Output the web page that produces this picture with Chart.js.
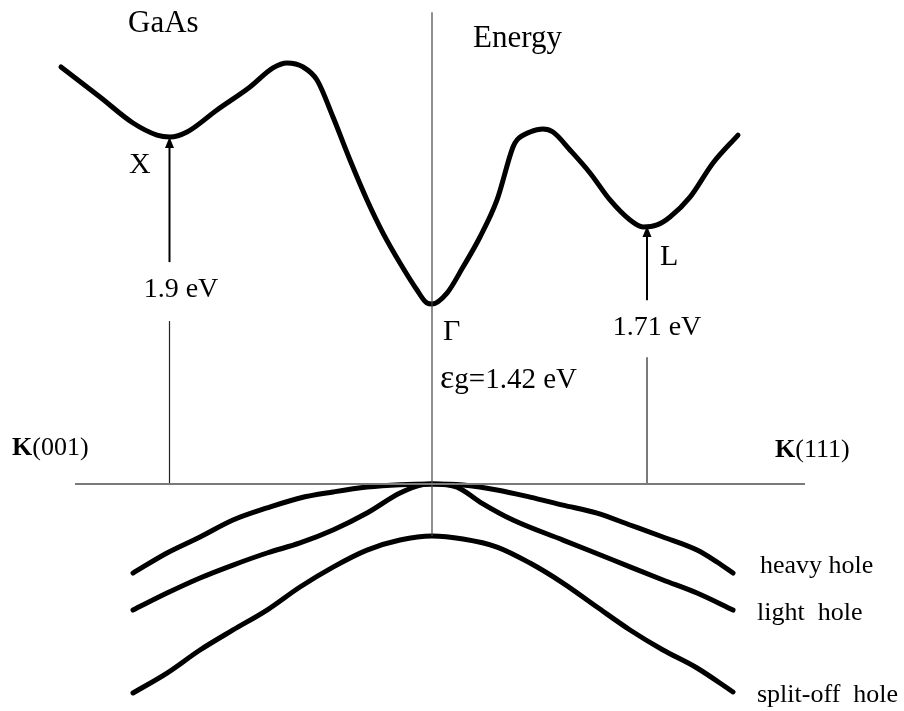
<!DOCTYPE html>
<html>
<head>
<meta charset="utf-8">
<script src="https://cdn.jsdelivr.net/npm/chart.js@4.4.1/dist/chart.umd.min.js"></script>
<style>
  html, body { margin: 0; padding: 0; background: #fff; }
  #wrap { width: 904px; height: 711px; }
</style>
</head>
<body>
<div id="wrap"><canvas id="band" width="904" height="711"></canvas></div>
<script>
  // k in arbitrary wave-vector units (Gamma = 0), E in eV-like units (valence top = 0)
  const condK = [-1.484, -1.328, -1.196, -1.100, -1.048, -0.980, -0.860, -0.728, -0.636, -0.580, -0.516, -0.460,
    -0.396, -0.328, -0.260, -0.196, -0.128, -0.060, -0.020, 0.000, 0.060, 0.124, 0.192, 0.260, 0.324, 0.340,
    0.392, 0.444, 0.484, 0.552, 0.632, 0.712, 0.792, 0.844, 0.900, 0.952, 1.032, 1.124, 1.224];
  const condE = [3.289, 3.052, 2.847, 2.752, 2.737, 2.776, 2.950, 3.131, 3.281, 3.320, 3.289, 3.186,
    2.894, 2.555, 2.240, 1.979, 1.743, 1.530, 1.427, 1.420, 1.506, 1.711, 1.948, 2.240, 2.658, 2.713,
    2.776, 2.800, 2.776, 2.634, 2.453, 2.240, 2.082, 2.027, 2.043, 2.106, 2.263, 2.532, 2.752];

  const heavyK = [-1.196, -1.060, -0.928, -0.796, -0.660, -0.528, -0.396, -0.260, -0.128, 0.000,
    0.124, 0.260, 0.392, 0.524, 0.660, 0.792, 0.924, 1.060, 1.140, 1.204];
  const heavyE = [-0.702, -0.544, -0.418, -0.284, -0.189, -0.110, -0.063, -0.024, -0.005, 0.000,
    -0.008, -0.047, -0.103, -0.166, -0.229, -0.323, -0.418, -0.521, -0.615, -0.702];

  const lightK = [-1.196, -1.060, -0.928, -0.796, -0.660, -0.528, -0.396, -0.260, -0.128, -0.036, 0.000,
    0.100, 0.192, 0.324, 0.524, 0.724, 0.924, 1.060, 1.204];
  const lightE = [-0.994, -0.860, -0.741, -0.639, -0.544, -0.465, -0.363, -0.229, -0.071, -0.005, 0.000,
    -0.024, -0.142, -0.284, -0.442, -0.599, -0.757, -0.860, -0.994];

  const splitK = [-1.196, -1.060, -0.928, -0.796, -0.660, -0.528, -0.396, -0.260, -0.128, 0.000,
    0.124, 0.260, 0.392, 0.524, 0.660, 0.792, 0.924, 1.060, 1.204];
  const splitE = [-1.648, -1.491, -1.309, -1.151, -0.994, -0.812, -0.655, -0.521, -0.442, -0.410,
    -0.434, -0.497, -0.623, -0.781, -0.970, -1.151, -1.309, -1.451, -1.640];

  // symmetry points and valley minima
  const kX = -1.05, kL = 0.86;
  const eX = 2.737, eL = 2.035, eGap = 1.42;
  const kAxisRange = [-1.428, 1.492];
  const eAxisRange = [-0.41, 3.72];

  const labelTexts = ['GaAs', 'Energy', 'X', '1.9 eV', 'L', '1.71 eV', 'Γ', 'g=1.42 eV',
    'heavy hole', 'light  hole', 'split-off  hole'];

  const pts = (ks, es) => ks.map((k, i) => ({ x: k, y: es[i] }));

  function bandSet(data) {
    return { data, borderColor: '#000', borderWidth: 5, cubicInterpolationMode: 'monotone', pointRadius: 0,
      borderCapStyle: 'round', borderJoinStyle: 'round', fill: false };
  }
  function thinSet(data, color, width) {
    return { data, borderColor: color, borderWidth: width, tension: 0, pointRadius: 0, fill: false };
  }

  const serif = '"Liberation Serif", "Times New Roman", serif';

  const overlay = {
    id: 'overlay',
    afterDatasetsDraw(chart) {
      const { ctx, scales: { x, y } } = chart;
      const px = v => x.getPixelForValue(v);
      const py = v => y.getPixelForValue(v);

      function arrow(k, e0, e1) {
        const xx = px(k), y0 = py(e0), y1 = py(e1);
        ctx.save();
        ctx.strokeStyle = '#000';
        ctx.fillStyle = '#000';
        ctx.lineWidth = 2;
        ctx.beginPath();
        ctx.moveTo(xx, y0);
        ctx.lineTo(xx, y1 + 8);
        ctx.stroke();
        ctx.beginPath();
        ctx.moveTo(xx, y1);
        ctx.lineTo(xx - 4.5, y1 + 11);
        ctx.lineTo(xx + 4.5, y1 + 11);
        ctx.closePath();
        ctx.fill();
        ctx.restore();
      }
      arrow(kX, 1.75, eX);
      arrow(kL, 1.45, eL);

      function text(str, k, e, size, align, bold) {
        ctx.save();
        ctx.fillStyle = '#000';
        ctx.font = (bold ? 'bold ' : '') + size + 'px ' + serif;
        ctx.textAlign = align || 'left';
        ctx.textBaseline = 'alphabetic';
        ctx.fillText(str, px(k), py(e));
        ctx.restore();
      }
      text(labelTexts[0], -1.216, 3.565, 31);
      text(labelTexts[1], 0.164, 3.446, 31);
      text(labelTexts[2], -1.212, 2.453, 30);
      text(labelTexts[3], -1.004, 1.475, 28, 'center');
      text(labelTexts[4], 0.912, 1.727, 30);
      text(labelTexts[5], 0.900, 1.175, 28, 'center');
      text(labelTexts[6], 0.044, 1.136, 30);
      // epsilon drawn a bit larger, like the Symbol glyph in the original
      ctx.save();
      ctx.font = '34px ' + serif;
      ctx.fillStyle = '#000';
      ctx.fillText('ε', px(0.032), py(0.757));
      const ew = ctx.measureText('ε').width;
      ctx.restore();
      text(labelTexts[7], 0.032 + ew / 250, 0.757, 29);
      text(labelTexts[8], 1.312, -0.702, 26);
      text(labelTexts[9], 1.300, -1.073, 26);
      text(labelTexts[10], 1.300, -1.719, 26);

      // K direction labels: bold K followed by normal text
      function kLabel(dir, k, e) {
        ctx.save();
        ctx.fillStyle = '#000';
        ctx.textBaseline = 'alphabetic';
        ctx.font = 'bold 26px ' + serif;
        const x0 = px(k), y0 = py(e);
        ctx.fillText('K', x0, y0);
        const w = ctx.measureText('K').width;
        ctx.font = '26px ' + serif;
        ctx.fillText(dir, x0 + w, y0);
        ctx.restore();
      }
      kLabel('(001)', -1.68, 0.229);
      kLabel('(111)', 1.372, 0.213);
    }
  };

  new Chart(document.getElementById('band'), {
    type: 'line',
    data: {
      datasets: [
        thinSet([{ x: kAxisRange[0], y: 0 }, { x: kAxisRange[1], y: 0 }], '#7a7a7a', 2),
        thinSet([{ x: 0, y: eAxisRange[0] }, { x: 0, y: eAxisRange[1] }], '#444', 1.2),
        thinSet([{ x: kX, y: 0 }, { x: kX, y: 1.285 }], '#222', 1.2),
        thinSet([{ x: kL, y: 0 }, { x: kL, y: 1.0 }], '#222', 1.2),
        bandSet(pts(condK, condE)),
        bandSet(pts(heavyK, heavyE)),
        bandSet(pts(lightK, lightE)),
        bandSet(pts(splitK, splitE))
      ]
    },
    options: {
      responsive: false,
      animation: false,
      layout: { padding: 0 },
      plugins: { legend: { display: false }, tooltip: { enabled: false }, title: { display: false } },
      scales: {
        x: { type: 'linear', display: false, min: -1.728, max: 1.888 },
        y: { type: 'linear', display: false, min: -1.79, max: 3.817 }
      }
    },
    plugins: [overlay]
  });
</script>
</body>
</html>
